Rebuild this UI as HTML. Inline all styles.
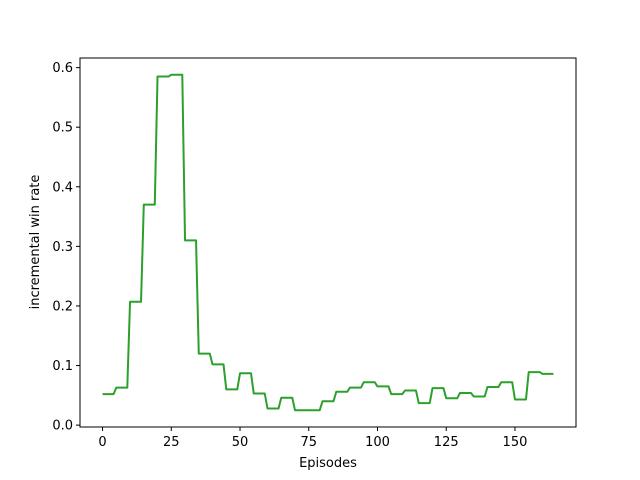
<!DOCTYPE html>
<html><head><meta charset="utf-8"><style>
body{margin:0;background:#fff}
svg{display:block;font-family:"DejaVu Sans","Liberation Sans",sans-serif}
</style></head><body>
<svg id="chart" width="640" height="480" viewBox="0 0 640 480">
<rect width="640" height="480" fill="#fff"/>
<g id="ticks"></g>
<polyline id="line" fill="none" stroke="#2ca02c" stroke-width="2" stroke-linejoin="round"/>
<rect x="80" y="58" width="496" height="369" fill="none" stroke="#000" stroke-width="1"/>
<text x="328" y="467" font-size="13" text-anchor="middle">Episodes</text>
<text x="39" y="242" font-size="13" text-anchor="middle" transform="rotate(-90 39 242)">incremental win rate</text>
</svg>
<script>
const blockValues=[0.052,0.063,0.207,0.37,0.585,0.588,0.31,0.12,0.102,0.06,0.087,0.053,0.028,0.046,0.025,0.025,0.04,0.056,0.063,0.072,0.065,0.052,0.058,0.037,0.062,0.045,0.054,0.048,0.064,0.072,0.043,0.089,0.086];
const episodesPerBlock=5;
const xTicks=[0,25,50,75,100,125,150];
const yTicks=[0.0,0.1,0.2,0.3,0.4,0.5,0.6];
const yTickLabels=["0.0","0.1","0.2","0.3","0.4","0.5","0.6"];

const L=80,R=576,T=58,B=427;
const n=blockValues.length*episodesPerBlock;
const values=[];for(let i=0;i<n;i++)values.push(blockValues[Math.floor(i/episodesPerBlock)]);
const xmax=n-1,xpad=xmax*0.05;
const ymin=Math.min(...values),ymaxv=Math.max(...values),ypad=(ymaxv-ymin)*0.05;
const x0=-xpad,x1=xmax+xpad,y0=ymin-ypad,y1=ymaxv+ypad;
const sx=v=>L+(v-x0)/(x1-x0)*(R-L);
const sy=v=>B-(v-y0)/(y1-y0)*(B-T);
document.getElementById('line').setAttribute('points',values.map((v,i)=>sx(i).toFixed(2)+','+sy(v).toFixed(2)).join(' '));
const g=document.getElementById('ticks');const NS='http://www.w3.org/2000/svg';
xTicks.forEach(t=>{const x=sx(t);
 const l=document.createElementNS(NS,'line');l.setAttribute('x1',x);l.setAttribute('x2',x);l.setAttribute('y1',B);l.setAttribute('y2',B+4);l.setAttribute('stroke','#000');
 
 g.appendChild(l);
 const s=document.createElementNS(NS,'text');s.setAttribute('x',x);s.setAttribute('y',B+19);s.setAttribute('font-size','13');s.setAttribute('text-anchor','middle');s.textContent=t;
 
 g.appendChild(s);});
yTicks.forEach((t,i)=>{const y=sy(t);
 const l=document.createElementNS(NS,'line');l.setAttribute('x1',L-4);l.setAttribute('x2',L);l.setAttribute('y1',y);l.setAttribute('y2',y);l.setAttribute('stroke','#000');
 
 g.appendChild(l);
 const s=document.createElementNS(NS,'text');s.setAttribute('x',L-7);s.setAttribute('y',y+4.5);s.setAttribute('font-size','13');s.setAttribute('text-anchor','end');s.textContent=yTickLabels[i];
 
 g.appendChild(s);});
</script>
</body></html>
